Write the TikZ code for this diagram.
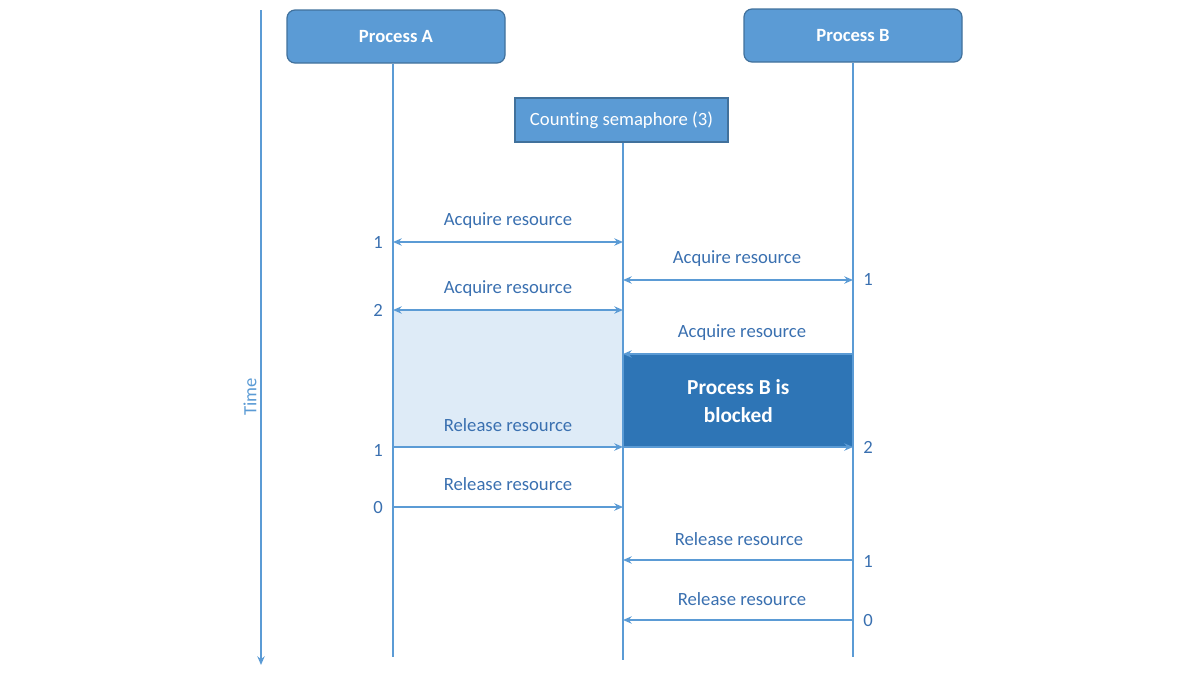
\documentclass[tikz,border=0pt]{standalone}
\usepackage{fontspec}
\setmainfont{Carlito}[Ligatures=NoCommon]
\usetikzlibrary{arrows.meta}
\definecolor{lineblue}{HTML}{5B9BD5}
\definecolor{txtblue}{HTML}{3A70B0}
\definecolor{boxborder}{HTML}{41719C}
\definecolor{lightfill}{HTML}{DEEBF7}
\definecolor{darkfill}{HTML}{2E75B6}
\tikzset{
  procbox/.style={draw=boxborder, fill=lineblue, line width=0.9pt, rounded corners=6pt, text=white, font=\bfseries\fontsize{14}{16}\selectfont},
  sembox/.style={draw=boxborder, fill=lineblue, line width=0.9pt, text=white, font=\fontsize{14}{16}\selectfont},
  life/.style={draw=lineblue, line width=1.5pt},
  msg/.style={draw=lineblue, line width=1.5pt, -{Stealth[length=6.5pt,width=5.5pt]}},
  msgboth/.style={draw=lineblue, line width=1.5pt, {Stealth[length=6.5pt,width=5.5pt]}-{Stealth[length=6.5pt,width=5.5pt]}},
  lbl/.style={text=txtblue, font=\fontsize{14}{16}\selectfont},
  num/.style={text=txtblue, font=\fontsize{14}{16}\selectfont},
}
\begin{document}
\begin{tikzpicture}[x=0.75pt,y=-0.75pt]
\useasboundingbox (0,0) rectangle (1200,675);
% shaded regions
\fill[lightfill] (393,310) rectangle (623,447);
\node[fill=darkfill, minimum width=230*0.75pt, minimum height=93*0.75pt, inner sep=0pt, anchor=north west, text=white, font=\bfseries\fontsize{16}{21}\selectfont, align=center] (blocked) at (623,354) {Process B is\\blocked};
% time axis
\coordinate (t0) at (261,10);
\coordinate (t1) at (261,665);
\draw[msg] (t0) -- (t1);
\node[rotate=90, text=lineblue, font=\fontsize{14}{16}\selectfont] (time) at (250,397) {Time};
% headers
\node[procbox, minimum width=218*0.75pt, minimum height=53*0.75pt, inner sep=0pt] (pA) at (396,36.5) {Process A};
\node[procbox, minimum width=218*0.75pt, minimum height=53*0.75pt, inner sep=0pt] (pB) at (853,35.5) {Process B};
\node[sembox, minimum width=213*0.75pt, minimum height=44*0.75pt, inner sep=0pt] (sem) at (621.5,120) {Counting semaphore (3)};
% lifelines
\coordinate (aEnd) at (393,657);
\coordinate (sEnd) at (623,660);
\coordinate (bEnd) at (853,657);
\draw[life] (pA.south -| aEnd) -- (aEnd);
\draw[life] (sem.south -| sEnd) -- (sEnd);
\draw[life] (pB.south -| bEnd) -- (bEnd);
% lifeline points
\foreach \y/\n in {242/1,280/2,310/3,354/4,447/5,507/6,560/7,620/8}{
  \coordinate (a\n) at (393,\y);
  \coordinate (s\n) at (623,\y);
  \coordinate (b\n) at (853,\y);
}
% messages
\draw[msgboth] (a1) -- (s1);
\node[lbl] (l1) at (508,221) {Acquire resource};
\node[num] (n1) at (378,242) {1};
\draw[msgboth] (s2) -- (b2);
\node[lbl] (l2) at (737,259) {Acquire resource};
\node[num] (n2) at (868,279) {1};
\draw[msgboth] (a3) -- (s3);
\node[lbl] (l3) at (508,289) {Acquire resource};
\node[num] (n3) at (378,310) {2};
\draw[msg] (b4) -- (s4);
\node[lbl] (l4) at (742,333) {Acquire resource};
\draw[msg] (a5) -- (s5);
\draw[msg] (s5) -- (b5);
\node[lbl] (l5) at (508,425) {Release resource};
\node[num] (n5) at (378,450) {1};
\node[num] (n5b) at (868,447) {2};
\draw[msg] (a6) -- (s6);
\node[lbl] (l6) at (508,484) {Release resource};
\node[num] (n6) at (378,508) {0};
\draw[msg] (b7) -- (s7);
\node[lbl] (l7) at (739,539) {Release resource};
\node[num] (n7) at (868,561) {1};
\draw[msg] (b8) -- (s8);
\node[lbl] (l8) at (742,599) {Release resource};
\node[num] (n8) at (868,620) {0};
\end{tikzpicture}
\end{document}
